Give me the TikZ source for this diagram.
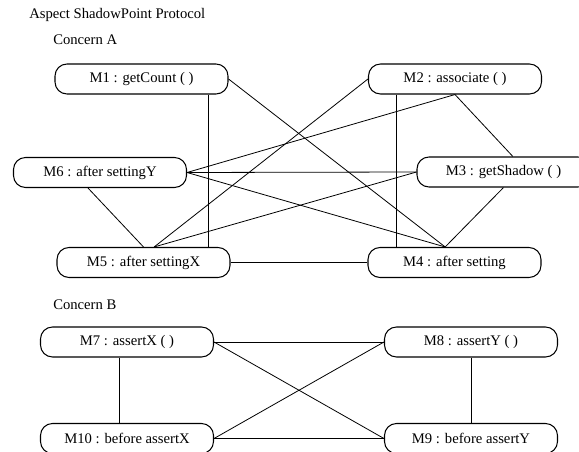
\documentclass[tikz,border=0pt]{standalone}
\usepackage{fontspec}
\setmainfont{Liberation Serif}
\usetikzlibrary{calc}
\usetikzlibrary{positioning}
\tikzset{
    method/.style={draw, rounded corners=9pt, minimum width=129.75pt, minimum height=22.5pt,
                   inner sep=0pt, line width=0.8pt, font=\fontsize{11}{13}\selectfont},
    heading/.style={anchor=west, inner sep=0pt, font=\fontsize{11}{13}\selectfont},
    link/.style={line width=0.6pt}
}

\begin{document}
\begin{tikzpicture}[x=0.75pt, y=-0.75pt]
            \useasboundingbox (0,0) rectangle (579,452);
            % headings
            \node[heading] (title)    at ( 29,  15) {Aspect ShadowPoint Protocol};
            \node[heading] (concernA) at ( 53,  40) {Concern A};
            \node[heading] (concernB) at ( 53, 305) {Concern B};
            % concern A
            \node[method] (m1) at (141.5,  79.0) {M1 : getCount ( )};
            \node[method] (m2) at (455.0,  79.0) {M2 : associate ( )};
            \node[method] (m6) at (100.0, 172.5) {M6 : after settingY};
            \node[method] (m3) at (503.5, 172.0) {M3 : getShadow ( )};
            \node[method] (m5) at (143.5, 262.5) {M5 : after settingX};
            \node[method] (m4) at (454.5, 262.5) {M4 : after setting};
            \coordinate (m4top) at ([xshift=-7pt]m4.north);
            \coordinate (m5top) at ([xshift=8pt]m5.north);
            \draw[link] ([xshift=-15pt]m1.south east) -- ([xshift=-15pt]m1.south east |- m5.north);
            \draw[link] ([xshift=21pt]m2.south west)  -- ([xshift=21pt]m2.south west |- m4.north);
            \draw[link] (m1.east)  -- (m4top);
            \draw[link] (m2.west)  -- (m5top);
            \draw[link] (m2.south) -- (m6.east);
            \draw[link] (m2.south) -- ([xshift=7pt]m3.north);
            \draw[link] (m6.east)  -- (m3.west);
            \draw[link] (m6.east)  -- (m4top);
            \draw[link] ([xshift=-9pt]m6.south) -- (m5.north);
            \draw[link] (m3.west)  -- (m5top);
            \draw[link] (m3.south) -- (m4top);
            \draw[link] (m5.east)  -- (m4.west);
            % concern B
            \node[method] (m7)  at (127.0, 342.0) {M7 : assertX ( )};
            \node[method] (m8)  at (471.0, 342.0) {M8 : assertY ( )};
            \node[method] (m10) at (127.0, 438.5) {M10 : before assertX};
            \node[method] (m9)  at (471.0, 438.5) {M9 : before assertY};
            \draw[link] (m7.east)  -- (m8.west);
            \draw[link] (m7.east)  -- (m9.west);
            \draw[link] (m10.east) -- (m8.west);
            \draw[link] (m10.east) -- (m9.west);
            \draw[link] ([xshift=-6pt]m7.south) -- ([xshift=-6pt]m10.north);
            \draw[link] (m8.south) -- (m9.north);
        \end{tikzpicture}
\end{document}
